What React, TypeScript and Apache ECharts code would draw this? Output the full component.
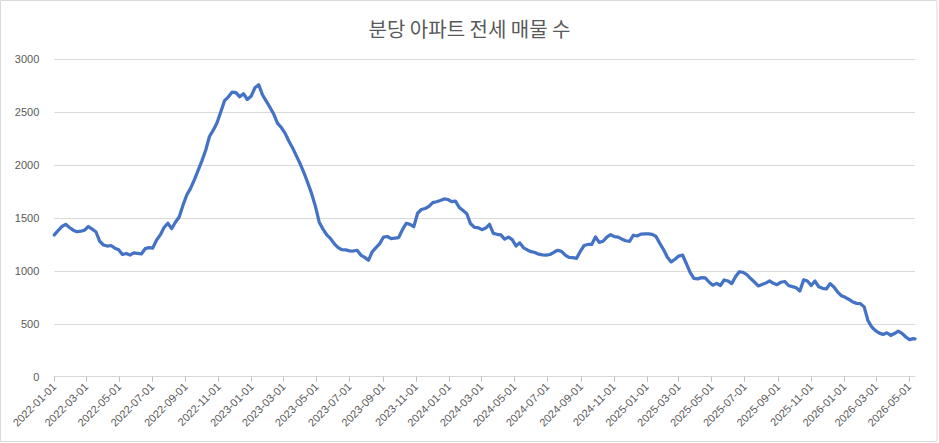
import React, { useEffect, useRef } from "react";
import * as echarts from "echarts";

const TITLE = "분당 아파트 전세 매물 수";
const FIRST_DATE = "2022-01-01";
const LAST_DAY_INDEX = 1592; // 2026-05-12
const SAMPLE_STEP_DAYS = 7;
const TICK_MONTHS = ["01", "03", "05", "07", "09", "11"];
const Y_TICKS = [0, 500, 1000, 1500, 2000, 2500, 3000];

// weekly readings from 2022-01-01
const weeklyListings: number[] = [
  1340, 1380, 1420, 1440, 1410, 1385, 1370, 1375, 1385, 1420,
  1395, 1370, 1280, 1245, 1235, 1240, 1215, 1200, 1155, 1165,
  1150, 1170, 1165, 1160, 1210, 1220, 1215, 1290, 1340, 1410,
  1450, 1400, 1460, 1510, 1620, 1717, 1780, 1860, 1950, 2040,
  2140, 2270, 2330, 2400, 2505, 2610, 2645, 2690, 2685, 2645,
  2675, 2620, 2650, 2730, 2760, 2665, 2605, 2545, 2480, 2395,
  2355, 2300, 2225, 2160, 2085, 2010, 1925, 1830, 1730, 1610,
  1460, 1395, 1340, 1305, 1255, 1220, 1200, 1198, 1190, 1188,
  1195, 1150, 1128, 1100, 1180, 1220, 1258, 1320, 1325, 1305,
  1310, 1315, 1390, 1450, 1440, 1418, 1545, 1580, 1590, 1610,
  1645, 1654, 1665, 1680, 1675, 1655, 1660, 1600, 1570, 1540,
  1445, 1412, 1408, 1390, 1405, 1440, 1355, 1346, 1340, 1300,
  1320, 1295, 1235, 1265, 1218, 1198, 1182, 1174, 1158, 1152,
  1150, 1155, 1176, 1195, 1185, 1150, 1128, 1125, 1119, 1185,
  1240, 1250, 1250, 1320, 1270, 1280, 1320, 1342, 1324, 1320,
  1300, 1285, 1280, 1337, 1330, 1348, 1350, 1350, 1345, 1325,
  1260, 1200, 1130, 1085, 1110, 1140, 1150, 1070, 985, 930,
  925, 936, 934, 895, 865, 882, 862, 914, 905, 880,
  945, 992, 986, 965, 928, 895, 858, 872, 885, 905,
  883, 870, 893, 900, 862, 851, 842, 810, 915, 904,
  862, 904, 850, 835, 829, 880, 848, 800, 765, 750,
  730, 706, 693, 690, 660, 530, 470, 435, 412, 400,
  415, 390, 408, 431, 410, 375, 350, 360,
];
const lastListing = 358;

const DAY_MS = 86400000;
const startMs = Date.parse(FIRST_DATE + "T00:00:00Z");
const categories: string[] = Array.from({ length: LAST_DAY_INDEX + 1 }, (_, i) =>
  new Date(startMs + i * DAY_MS).toISOString().slice(0, 10)
);
const seriesData: (number | null)[] = categories.map(() => null);
weeklyListings.forEach((v, k) => {
  seriesData[k * SAMPLE_STEP_DAYS] = v;
});
seriesData[LAST_DAY_INDEX] = lastListing;

const isTickDate = (_i: number, v: string) =>
  v.slice(8) === "01" && TICK_MONTHS.includes(v.slice(5, 7));

export default function App() {
  const ref = useRef<HTMLDivElement>(null);
  useEffect(() => {
    document.body.style.margin = "0";
    if (!ref.current) return;
    const chart = echarts.init(ref.current, undefined, { renderer: "svg" });
    const textColor = "#595959";
    const gridColor = "#d9d9d9";
    chart.setOption({
      animation: false,
      backgroundColor: "#ffffff",
      title: {
        text: TITLE,
        left: "center",
        top: 13,
        textStyle: {
          fontFamily: "Noto Sans CJK KR",
          fontSize: 20,
          fontWeight: "normal",
          color: textColor,
        },
      },
      graphic: [
        {
          type: "rect",
          silent: true,
          z: -1,
          shape: { x: 0.5, y: 0.5, width: 936.5, height: 441 },
          style: { fill: "none", stroke: gridColor, lineWidth: 1 },
        },
      ],
      grid: { left: 54.3, right: 24, top: 59.3, bottom: 66.3, containLabel: false },
      xAxis: {
        type: "category",
        data: categories,
        boundaryGap: false,
        axisLine: { lineStyle: { color: gridColor, width: 1 } },
        axisTick: {
          interval: isTickDate,
          length: 5,
          lineStyle: { color: "#bfbfbf" },
        },
        axisLabel: {
          interval: isTickDate,
          rotate: 45,
          margin: 8,
          color: textColor,
          fontSize: 11,
          fontFamily: "Liberation Sans",
        },
        splitLine: { show: false },
      },
      yAxis: {
        type: "value",
        min: Y_TICKS[0],
        max: Y_TICKS[Y_TICKS.length - 1],
        interval: Y_TICKS[1] - Y_TICKS[0],
        axisLine: { show: false },
        axisTick: { show: false },
        axisLabel: {
          color: textColor,
          fontSize: 11,
          fontFamily: "Liberation Sans",
          margin: 15,
          formatter: (v: number) => String(v),
        },
        splitLine: { lineStyle: { color: gridColor, width: 1 } },
      },
      series: [
        {
          type: "line",
          data: seriesData,
          connectNulls: true,
          showSymbol: false,
          symbol: "none",
          lineStyle: { color: "#4472C4", width: 3.25, join: "round", cap: "round" },
          itemStyle: { color: "#4472C4" },
        },
      ],
    });
    return () => chart.dispose();
  }, []);
  return <div ref={ref} style={{ width: 939, height: 443 }} />;
}
